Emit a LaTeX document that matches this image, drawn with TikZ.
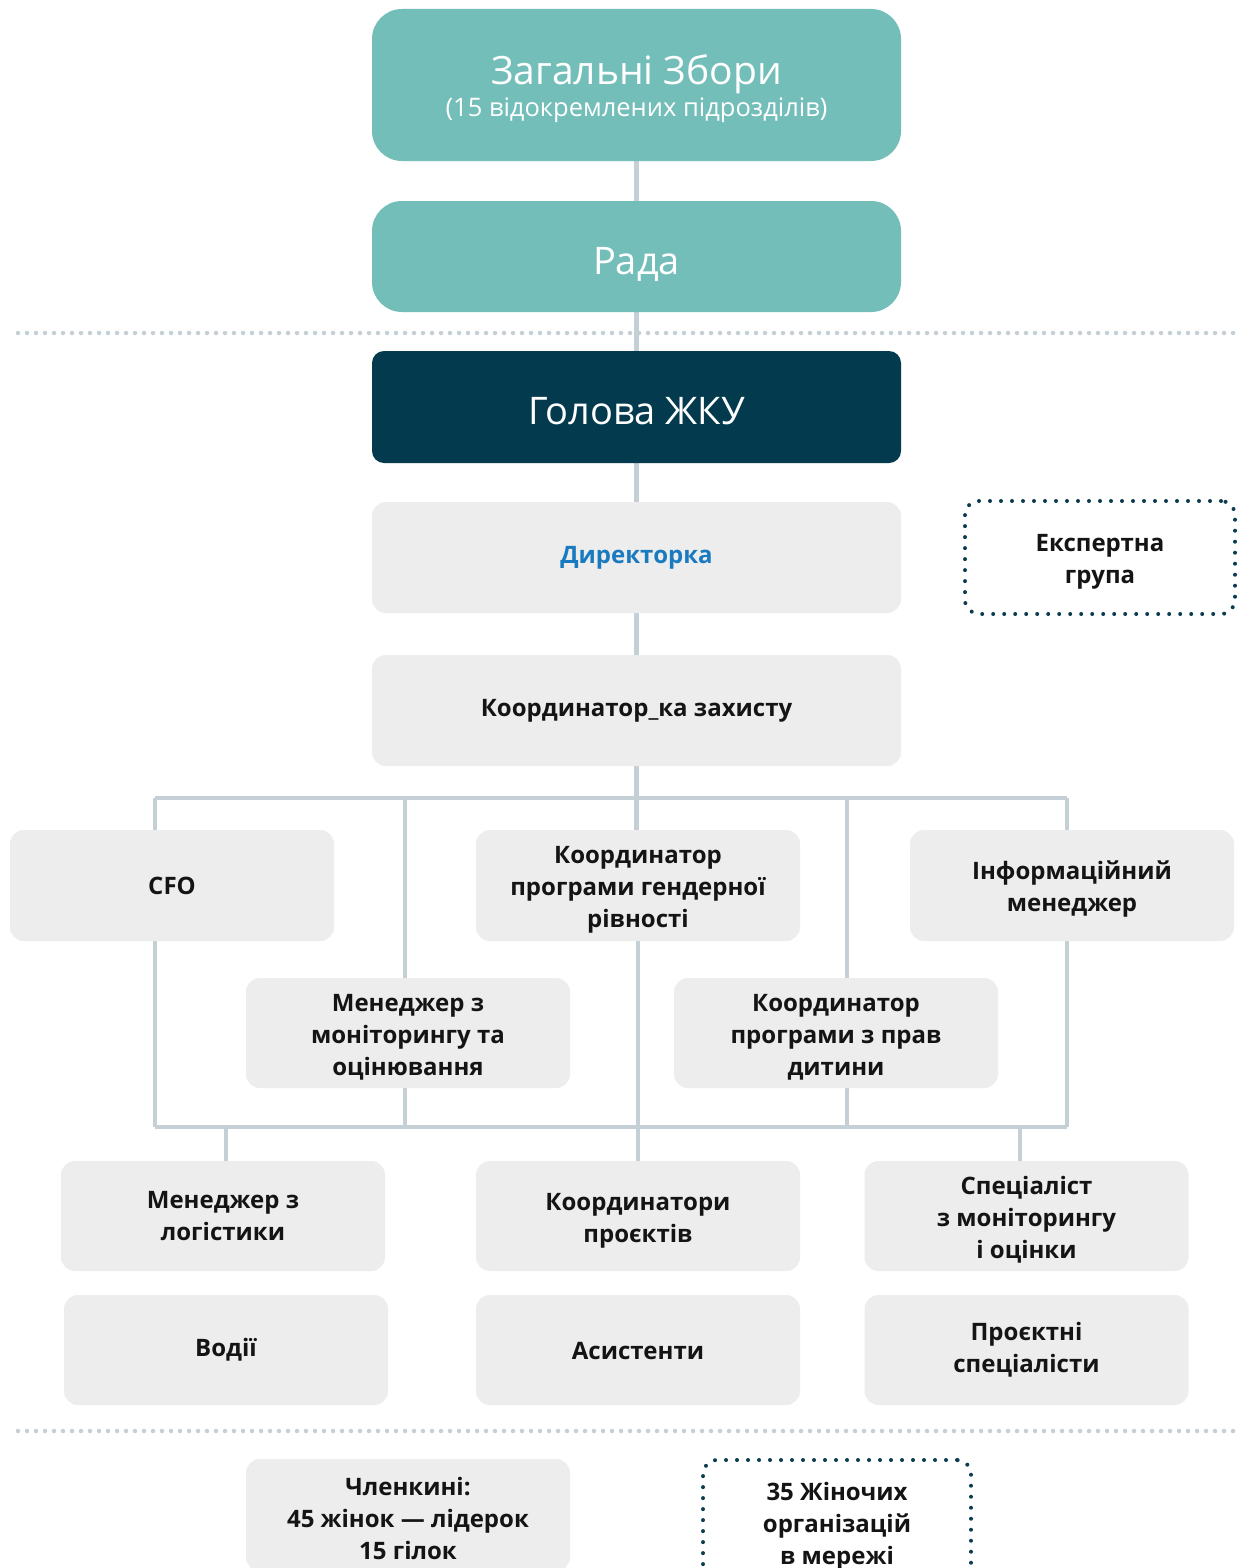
\documentclass[tikz,border=0pt]{standalone}
\usepackage{fontspec}
\setmainfont{Open Sans}
\usetikzlibrary{backgrounds}
\definecolor{teal}{HTML}{74BEBA}
\definecolor{navy}{HTML}{033A4E}
\definecolor{boxgray}{HTML}{EDEDED}
\definecolor{linegray}{HTML}{C5CFD6}
\definecolor{dotnavy}{HTML}{0B3C4F}
\definecolor{dirblue}{HTML}{1A7ABF}
\definecolor{txt}{HTML}{141414}
\newcommand{\atline}[2]{\makebox[0pt]{\raisebox{-#1}[0pt][0pt]{#2}}}
\newcommand{\stt}{\rule{0pt}{26pt}}
\tikzset{
  topbox/.style={fill=teal, rounded corners=30pt, minimum width=529pt, text=white, inner sep=0pt},
  headbox/.style={fill=navy, rounded corners=12pt, minimum width=529pt, minimum height=112pt, text=white, inner sep=0pt},
  graybox/.style={fill=boxgray, rounded corners=14pt, minimum width=324pt, minimum height=111pt, text=txt, align=center, inner sep=0pt, font=\bfseries\fontsize{24}{32}\selectfont},
  widebox/.style={graybox, minimum width=529pt},
  dotbox/.style={draw=dotnavy, line width=4pt, line cap=round, dash pattern=on 0pt off 11pt, rounded corners=14pt, text=txt, align=center, inner sep=0pt, font=\bfseries\fontsize{24}{32}\selectfont},
  conn/.style={draw=linegray, line width=4.5pt},
  sepline/.style={draw=linegray, line width=4.5pt, line cap=round, dash pattern=on 0pt off 9pt},
}
\begin{document}
\begin{tikzpicture}[x=1pt,y=-1pt]
\useasboundingbox (0,0) rectangle (1238,1568);
\clip (0,0) rectangle (1238,1568);

\node[topbox, minimum height=152pt] (zag) at (636.5,85) {\fontsize{39}{44}\selectfont\atline{0pt}{Загальні Збори}\fontsize{25.5}{28}\selectfont\atline{32pt}{(15 відокремлених підрозділів)}};
\node[topbox, minimum height=111pt] (rada) at (636.5,256.5) {\fontsize{38}{40}\selectfont\atline{17.5pt}{Рада}};
\node[headbox] (holova) at (636.5,407) {\fontsize{38}{40}\selectfont\atline{17pt}{Голова ЖКУ}};
\node[widebox, text=dirblue] (dir) at (636.5,557.5) {Директорка};
\node[dotbox, minimum width=270pt, minimum height=113pt] (exp) at (1100,557.5) {\stt Експертна\\група};
\node[widebox] (koord) at (636.5,710.5) {Координатор\_ка захисту};

\node[graybox] (cfo) at (172,885.5) {CFO};
\node[graybox] (gender) at (638,885.5) {\stt Координатор\\програми гендерної\\рівності};
\node[graybox] (info) at (1072,885.5) {\stt Інформаційний\\менеджер};
\node[graybox, minimum height=110pt] (mon) at (408,1033) {\stt Менеджер з\\моніторингу та\\оцінювання};
\node[graybox, minimum height=110pt] (child) at (836,1033) {\stt Координатор\\програми з прав\\дитини};

\node[graybox, minimum height=110pt] (log) at (223,1216) {Менеджер з\\логістики};
\node[graybox, minimum height=110pt] (proj) at (638,1216) {\stt Координатори\\проєктів};
\node[graybox, minimum height=110pt] (spec) at (1026.5,1216) {\stt Спеціаліст\\з моніторингу\\і оцінки};

\node[graybox, minimum height=110pt] (drv) at (226,1350) {Водії};
\node[graybox, minimum height=110pt] (asist) at (638,1350) {\rule{0pt}{20pt}Асистенти};
\node[graybox, minimum height=110pt] (pspec) at (1026.5,1350) {Проєктні\\спеціалісти};

\node[graybox, minimum height=112pt] (members) at (408,1515) {\stt Членкині:\\45 жінок — лідерок\\15 гілок};
\node[dotbox, minimum width=268pt, minimum height=124pt] (net) at (837,1522) {\stt 35 Жіночих\\організацій\\в мережі};

\coordinate (sep1l) at (18,333);
\coordinate (sep1r) at (1236,333);
\coordinate (sep2l) at (18,1431);
\coordinate (sep2r) at (1236,1431);
\coordinate (tl) at (155,798);
\coordinate (t2) at (405,798);
\coordinate (t4) at (847,798);
\coordinate (tr) at (1067,798);
\coordinate (bl) at (155,1127);
\coordinate (b2) at (405,1127);
\coordinate (b4) at (847,1127);
\coordinate (br) at (1067,1127);
\coordinate (blog) at (226,1127);
\coordinate (bspec) at (1020,1127);

\begin{scope}[on background layer]
\fill[white] (0,0) rectangle (1238,1568);
\draw[sepline] (sep1l) -- (sep1r);
\draw[sepline] (sep2l) -- (sep2r);
\draw[conn] (zag.south) -- (rada.north);
\draw[conn] (rada.south) -- (holova.north);
\draw[conn] (holova.south) -- (dir.north);
\draw[conn] (dir.south) -- (koord.north);
\draw[conn] (koord.south) -- (gender.north -| koord.south);
\draw[conn] (tl) -- (tr);
\draw[conn] (tl) -- (tl |- cfo.north);
\draw[conn] (t2) -- (t2 |- mon.north);
\draw[conn] (t4) -- (t4 |- child.north);
\draw[conn] (tr) -- (tr |- info.north);
\draw[conn] (tl |- cfo.south) -- (bl);
\draw[conn] (b2 |- mon.south) -- (b2);
\draw[conn] (gender.south) -- (proj.north);
\draw[conn] (b4 |- child.south) -- (b4);
\draw[conn] (br |- info.south) -- (br);
\draw[conn] (bl) -- (br);
\draw[conn] (blog) -- (blog |- log.north);
\draw[conn] (bspec) -- (bspec |- spec.north);
\end{scope}
\end{tikzpicture}
\end{document}
